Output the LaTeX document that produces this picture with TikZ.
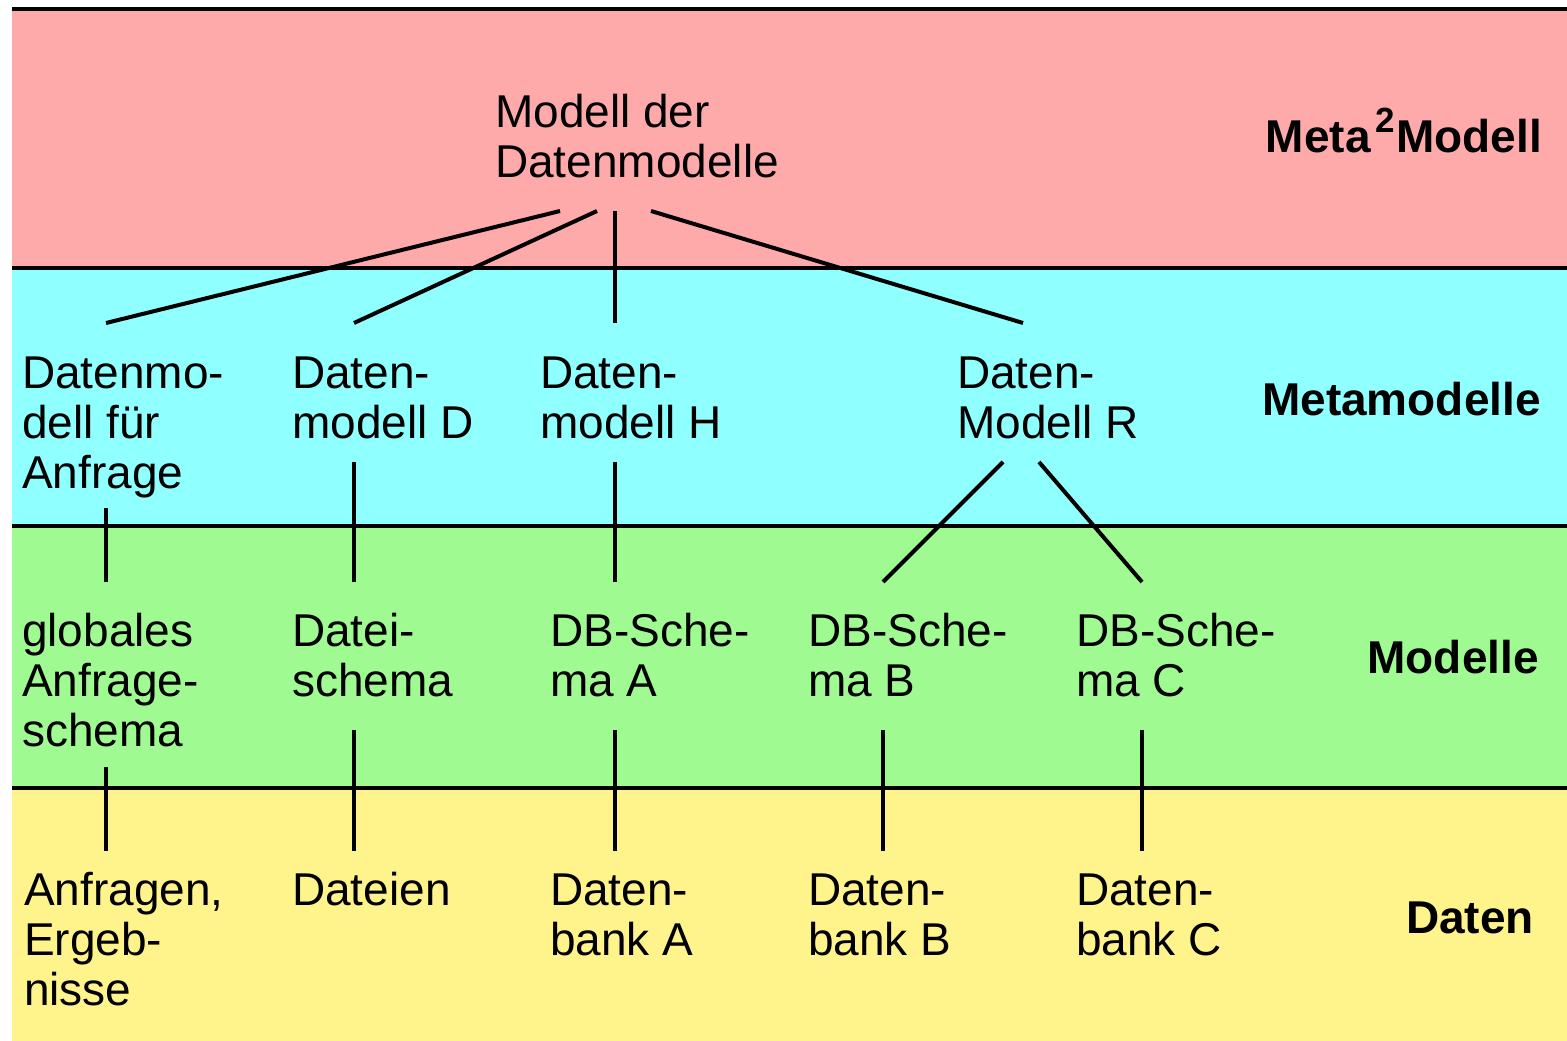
\documentclass[tikz,border=0pt]{standalone}
\usepackage{fontspec}
\setmainfont{Liberation Sans}
\definecolor{metameta_bg}{HTML}{FFAAAA}
\definecolor{meta_bg}{HTML}{90FFFF}
\definecolor{model_bg}{HTML}{A0FA92}
\definecolor{data_bg}{HTML}{FFF38C}
\begin{document}
\begin{tikzpicture}[x=1pt, y=-1pt]
        \tikzstyle{lvl_text}       = [anchor = base west, inner sep = 0pt, align = left, font = \fontsize{46}{50}\selectfont]
        \tikzstyle{lvl_name}       = [anchor = base east, inner sep = 0pt, font = \fontsize{46}{50}\selectfont\bfseries]
        \tikzstyle{lvl_line}       = [line width = 4pt]

        \useasboundingbox (0, 0) rectangle (1567, 1041);

        \fill[metameta_bg] (12,    9.5) rectangle (1567,  267.5);
        \fill[meta_bg]     (12,  267.5) rectangle (1567,  525.5);
        \fill[model_bg]    (12,  525.5) rectangle (1567,  787.5);
        \fill[data_bg]     (12,  787.5) rectangle (1567, 1041);

        \draw[lvl_line]
          (12,   9.5) -- (1567,   9.5)
          (12, 267.5) -- (1567, 267.5)
          (12, 525.5) -- (1567, 525.5)
          (12, 787.5) -- (1567, 787.5)
        ;

        \node[lvl_text] at (495,  177) (mdm) {Modell der\\Datenmodelle};
        \node[lvl_name] at (1542, 152) (meta2) {Meta\kern5pt\raisebox{20pt}{\fontsize{35}{35}\selectfont 2}\kern1pt Modell};

        \node[lvl_text] at (22,   488) (dm_anf) {Datenmo-\\dell für\\Anfrage};
        \node[lvl_text] at (292,  438) (dm_d)   {Daten-\\modell D};
        \node[lvl_text] at (540,  438) (dm_h)   {Daten-\\modell H};
        \node[lvl_text] at (957,  438) (dm_r)   {Daten-\\Modell R};
        \node[lvl_name] at (1541, 415) (meta)   {Metamodelle};

        \node[lvl_text] at (22,   746) (sch_anf) {globales\\Anfrage-\\schema};
        \node[lvl_text] at (292,  696) (sch_dat) {Datei-\\schema};
        \node[lvl_text] at (550,  696) (sch_a)   {DB-Sche-\\ma A};
        \node[lvl_text] at (808,  696) (sch_b)   {DB-Sche-\\ma B};
        \node[lvl_text] at (1076, 696) (sch_c)   {DB-Sche-\\ma C};
        \node[lvl_name] at (1539, 673) (model)   {Modelle};

        \node[lvl_text] at (24,  1005) (dat_anf) {Anfragen,\\Ergeb-\\nisse};
        \node[lvl_text] at (292,  905) (dat_dat) {Dateien};
        \node[lvl_text] at (550,  955) (db_a)    {Daten-\\bank A};
        \node[lvl_text] at (808,  955) (db_b)    {Daten-\\bank B};
        \node[lvl_text] at (1076, 955) (db_c)    {Daten-\\bank C};
        \node[lvl_name] at (1534, 933) (data)    {Daten};

        \coordinate (mdm_o1)    at (560,  211);
        \coordinate (mdm_o2)    at (597,  211);
        \coordinate (mdm_o3)    at (615,  211);
        \coordinate (mdm_o4)    at (651,  211);

        \coordinate (dm_anf_i)  at (106,  323);
        \coordinate (dm_d_i)    at (354,  323);
        \coordinate (dm_h_i)    at (615,  323);
        \coordinate (dm_r_i)    at (1023, 323);
        \coordinate (dm_anf_o)  at (106,  508);
        \coordinate (dm_d_o)    at (354,  462);
        \coordinate (dm_h_o)    at (615,  462);
        \coordinate (dm_r_o1)   at (1003, 462);
        \coordinate (dm_r_o2)   at (1039, 462);

        \coordinate (sch_anf_i) at (106,  582);
        \coordinate (sch_dat_i) at (354,  582);
        \coordinate (sch_a_i)   at (615,  582);
        \coordinate (sch_b_i)   at (883,  582);
        \coordinate (sch_c_i)   at (1142, 582);
        \coordinate (sch_anf_o) at (106,  767);
        \coordinate (sch_dat_o) at (354,  730);
        \coordinate (sch_a_o)   at (615,  730);
        \coordinate (sch_b_o)   at (883,  730);
        \coordinate (sch_c_o)   at (1142, 730);

        \coordinate (dat_anf_i) at (106,  851);
        \coordinate (dat_dat_i) at (354,  851);
        \coordinate (db_a_i)    at (615,  851);
        \coordinate (db_b_i)    at (883,  851);
        \coordinate (db_c_i)    at (1142, 851);

        \draw[lvl_line]
          (mdm_o1) edge (dm_anf_i)
          (mdm_o2) edge (dm_d_i)
          (mdm_o3) edge (dm_h_i)
          (mdm_o4) edge (dm_r_i)
        ;

        \draw[lvl_line]
          (dm_anf_o) edge (sch_anf_i)
          (dm_d_o)   edge (sch_dat_i)
          (dm_h_o)   edge (sch_a_i)
          (dm_r_o1)  edge (sch_b_i)
          (dm_r_o2)  edge (sch_c_i)
        ;

        \draw[lvl_line]
          (sch_anf_o) edge (dat_anf_i)
          (sch_dat_o) edge (dat_dat_i)
          (sch_a_o)   edge (db_a_i)
          (sch_b_o)   edge (db_b_i)
          (sch_c_o)   edge (db_c_i)
        ;
      \end{tikzpicture}
\end{document}
